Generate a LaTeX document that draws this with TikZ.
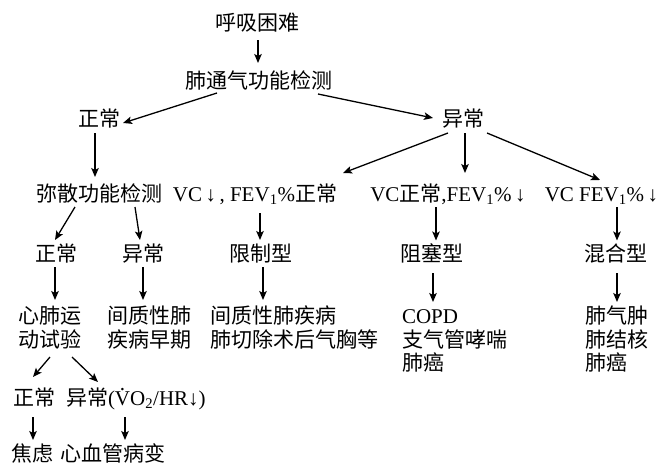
\documentclass[tikz,border=0pt]{standalone}
\usepackage{fontspec}
\setmainfont{Liberation Serif}
\newfontfamily\cjk{Noto Sans CJK SC}
\usetikzlibrary{arrows.meta}
\tikzset{
  lbl/.style={inner sep=0pt, outer sep=0pt, font=\fontsize{21}{25}\selectfont},
  arr/.style={-{Stealth[length=9pt,width=7.5pt,inset=2pt]}, line width=1.3pt},
}
\newcommand{\stackl}[1]{\vtop{\baselineskip=23.5pt\lineskiplimit=-30pt #1}}
\newcommand{\dotV}{\rlap{\hbox to 0.722em{\hss\raisebox{0.7em}{.}\hss}}V}
\begin{document}
\begin{tikzpicture}[x=1pt,y=-1pt]
\useasboundingbox[fill=white] (0,0) rectangle (669,466);
% row 1-3
\node[lbl,anchor=base] (n1) at (257,30.5) {\cjk 呼吸困难};
\node[lbl,anchor=base] (n2) at (258.5,88.5) {\cjk 肺通气功能检测};
\node[lbl,anchor=base] (n3) at (99,126.5) {\cjk 正常};
\node[lbl,anchor=base] (n4) at (463,126.5) {\cjk 异常};
% row 4
\node[lbl,anchor=base] (n5) at (99.5,201.5) {\cjk 弥散功能检测};
\node[lbl,anchor=base] (n6) at (255,201) {VC\,↓\,, FEV\textsubscript{1}\%{\cjk 正常}};
\node[lbl,anchor=base] (n7) at (448,201) {VC{\cjk 正常},FEV\textsubscript{1}\%\,↓};
\node[lbl,anchor=base] (n8) at (601.5,201) {VC FEV\textsubscript{1}\%\,↓};
% row 5
\node[lbl,anchor=base] (n9) at (56,261.5) {\cjk 正常};
\node[lbl,anchor=base] (n10) at (143,261.5) {\cjk 异常};
\node[lbl,anchor=base] (n11) at (261,261.5) {\cjk 限制型};
\node[lbl,anchor=base] (n12) at (432,261.5) {\cjk 阻塞型};
\node[lbl,anchor=base] (n13) at (616,261.5) {\cjk 混合型};
% row 6 (multi-line)
\node[lbl,anchor=base west] (n14) at (18,323.5) {\stackl{\hbox{\cjk 心肺运}\hbox{\cjk 动试验}}};
\node[lbl,anchor=base west] (n15) at (107,323.5) {\stackl{\hbox{\cjk 间质性肺}\hbox{\cjk 疾病早期}}};
\node[lbl,anchor=base west] (n16) at (210,323.5) {\stackl{\hbox{\cjk 间质性肺疾病}\hbox{\cjk 肺切除术后气胸等}}};
\node[lbl,anchor=base west] (n17) at (402,323.5) {\stackl{\hbox{COPD}\hbox{\cjk 支气管哮喘}\hbox{\cjk 肺癌}}};
\node[lbl,anchor=base west] (n18) at (585,323.5) {\stackl{\hbox{\cjk 肺气肿}\hbox{\cjk 肺结核}\hbox{\cjk 肺癌}}};
% row 7-8
\node[lbl,anchor=base] (n19) at (34,405.5) {\cjk 正常};
\node[lbl,anchor=base west] (n20) at (66,405.5) {{\cjk 异常}(\dotV O\textsubscript{2}/HR↓)};
\node[lbl,anchor=base] (n21) at (33,461.5) {\cjk 焦虑};
\node[lbl,anchor=base] (n22) at (112.5,461.5) {\cjk 心血管病变};
% connectors
\draw[arr] ([xshift=1pt,yshift=-9.5pt]n1.base) -- ([xshift=-0.5pt,yshift=25.5pt]n2.base);
\draw[arr] ([xshift=-41.5pt,yshift=-4.5pt]n2.base) -- ([xshift=24pt,yshift=3.5pt]n3.base);
\draw[arr] ([xshift=59.5pt,yshift=-5.5pt]n2.base) -- ([xshift=-30pt,yshift=8.5pt]n4.base);
\draw[arr] ([xshift=-4pt,yshift=-6.5pt]n3.base) -- ([xshift=-4.5pt,yshift=24.5pt]n5.base);
\draw[arr] ([xshift=-15pt,yshift=-6.5pt]n4.base) -- ([xshift=88pt,yshift=28pt]n6.base);
\draw[arr] ([xshift=2pt,yshift=-6.5pt]n4.base) -- ([xshift=17pt,yshift=28pt]n7.base);
\draw[arr] ([xshift=24pt,yshift=-6.5pt]n4.base) -- ([xshift=-1.5pt,yshift=21pt]n8.base);
\draw[arr] ([xshift=-24.5pt,yshift=-5.5pt]n5.base) -- ([xshift=-1pt,yshift=21.5pt]n9.base);
\draw[arr] ([xshift=35.5pt,yshift=-5.5pt]n5.base) -- ([xshift=-3pt,yshift=21.5pt]n10.base);
\draw[arr] ([xshift=5pt,yshift=-12pt]n6.base) -- ([xshift=-1pt,yshift=21.5pt]n11.base);
\draw[arr] ([xshift=-12pt,yshift=-6pt]n7.base) -- ([xshift=4pt,yshift=21pt]n12.base);
\draw[arr] ([xshift=15.5pt,yshift=-6pt]n8.base) -- ([xshift=1pt,yshift=21pt]n13.base);
\draw[arr] ([xshift=-1pt,yshift=-5.5pt]n9.base) -- ([xshift=37pt,yshift=23.5pt]n14.base west);
\draw[arr] ([yshift=-5.5pt]n10.base) -- ([xshift=36pt,yshift=23.5pt]n15.base west);
\draw[arr] ([xshift=2pt,yshift=-5.5pt]n11.base) -- ([xshift=53pt,yshift=23.5pt]n16.base west);
\draw[arr] ([xshift=1pt,yshift=-11.5pt]n12.base) -- ([xshift=31pt,yshift=21.5pt]n17.base west);
\draw[arr] ([xshift=1pt,yshift=-11.5pt]n13.base) -- ([xshift=32pt,yshift=21.5pt]n18.base west);
\draw[arr] ([xshift=32pt,yshift=-33.5pt]n14.base west) -- ([xshift=-1pt,yshift=28.5pt]n19.base);
\draw[arr] ([xshift=54pt,yshift=-33.5pt]n14.base west) -- ([xshift=32pt,yshift=23.5pt]n20.base west);
\draw[arr] ([xshift=-1pt,yshift=-11.5pt]n19.base) -- ([yshift=21.5pt]n21.base);
\draw[arr] ([xshift=59pt,yshift=-11.5pt]n20.base west) -- ([xshift=12.5pt,yshift=21.5pt]n22.base);
\end{tikzpicture}
\end{document}
